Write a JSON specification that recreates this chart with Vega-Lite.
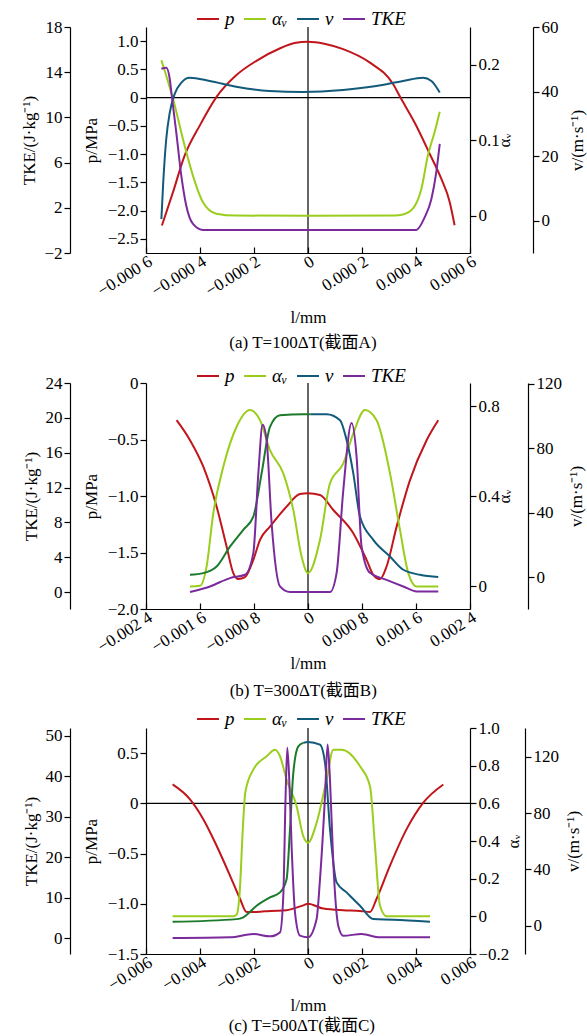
{
"$schema":"https://vega.github.io/schema/vega-lite/v6.json",
"padding":{"left":20,"top":7,"right":2,"bottom":2},
"spacing":13,
"datasets":{
"a":[
{"s":"p","l":-0.000541,"y":-2.263},{"s":"p","l":-0.0005,"y":-1.673},{"s":"p","l":-0.000457,"y":-1.026},{"s":"p","l":-0.000401,"y":-0.496},{"s":"p","l":-0.00034,"y":0.005},{"s":"p","l":-0.000265,"y":0.4},{"s":"p","l":-0.000191,"y":0.652},{"s":"p","l":-0.000105,"y":0.87},{"s":"p","l":-0.00005,"y":0.965},{"s":"p","l":0,"y":0.99},{"s":"p","l":0.00006,"y":0.955},{"s":"p","l":0.00013,"y":0.859},{"s":"p","l":0.000228,"y":0.624},{"s":"p","l":0.000315,"y":0.24},{"s":"p","l":0.000342,"y":0.005},{"s":"p","l":0.000401,"y":-0.497},{"s":"p","l":0.000451,"y":-0.997},{"s":"p","l":0.000494,"y":-1.44},{"s":"p","l":0.000525,"y":-1.85},{"s":"p","l":0.000543,"y":-2.26},
{"s":"a","l":-0.000543,"y":0.206},{"s":"a","l":-0.0005,"y":0.155},{"s":"a","l":-0.000457,"y":0.093},{"s":"a","l":-0.000426,"y":0.053},{"s":"a","l":-0.000389,"y":0.018},{"s":"a","l":-0.00034,"y":0.003},{"s":"a","l":-0.000267,"y":0.0005},{"s":"a","l":0,"y":0.0003},{"s":"a","l":0.00032,"y":0.0005},{"s":"a","l":0.000352,"y":0.002},{"s":"a","l":0.000389,"y":0.01},{"s":"a","l":0.00042,"y":0.036},{"s":"a","l":0.000444,"y":0.08},{"s":"a","l":0.000469,"y":0.111},{"s":"a","l":0.000488,"y":0.138},
{"s":"v","l":-0.000543,"y":0.5},{"s":"v","l":-0.000537,"y":10.6},{"s":"v","l":-0.000525,"y":25.3},{"s":"v","l":-0.000512,"y":33.5},{"s":"v","l":-0.000494,"y":39.2},{"s":"v","l":-0.000469,"y":42.8},{"s":"v","l":-0.000438,"y":44.3},{"s":"v","l":-0.000364,"y":43.3},{"s":"v","l":-0.000266,"y":41.5},{"s":"v","l":-0.000142,"y":40.2},{"s":"v","l":-0.0000185,"y":39.9},{"s":"v","l":0.00013,"y":40.5},{"s":"v","l":0.000253,"y":41.7},{"s":"v","l":0.000352,"y":43.3},{"s":"v","l":0.000426,"y":44.3},{"s":"v","l":0.000457,"y":43.3},{"s":"v","l":0.000488,"y":39.7},
{"s":"k","l":-0.000543,"y":14.3},{"s":"k","l":-0.000525,"y":14.4},{"s":"k","l":-0.000512,"y":13.4},{"s":"k","l":-0.000506,"y":12.2},{"s":"k","l":-0.000488,"y":8.7},{"s":"k","l":-0.000469,"y":4.8},{"s":"k","l":-0.000451,"y":2.2},{"s":"k","l":-0.000426,"y":0.57},{"s":"k","l":-0.000389,"y":0.04},{"s":"k","l":0,"y":0.04},{"s":"k","l":0.000401,"y":0.04},{"s":"k","l":0.000432,"y":1.15},{"s":"k","l":0.000457,"y":2.78},{"s":"k","l":0.000475,"y":5.14},{"s":"k","l":0.000488,"y":7.65}
],
"b":[
{"s":"p","l":-0.001947,"y":-0.329},{"s":"p","l":-0.001748,"y":-0.506},{"s":"p","l":-0.001551,"y":-0.741},{"s":"p","l":-0.001354,"y":-1.094},{"s":"p","l":-0.001206,"y":-1.447},{"s":"p","l":-0.001107,"y":-1.682},{"s":"p","l":-0.001033,"y":-1.735},{"s":"p","l":-0.000933,"y":-1.718},{"s":"p","l":-0.00081,"y":-1.565},{"s":"p","l":-0.000711,"y":-1.388},{"s":"p","l":-0.000563,"y":-1.271},{"s":"p","l":-0.000317,"y":-1.094},{"s":"p","l":-0.000119,"y":-0.982},{"s":"p","l":0,"y":-0.976},{"s":"p","l":0.000178,"y":-0.991},{"s":"p","l":0.000375,"y":-1.124},{"s":"p","l":0.000671,"y":-1.329},{"s":"p","l":0.000868,"y":-1.565},{"s":"p","l":0.000967,"y":-1.697},{"s":"p","l":0.001067,"y":-1.735},{"s":"p","l":0.001164,"y":-1.624},{"s":"p","l":0.001313,"y":-1.271},{"s":"p","l":0.001511,"y":-0.859},{"s":"p","l":0.001757,"y":-0.506},{"s":"p","l":0.00193,"y":-0.329},
{"s":"a","l":-0.001748,"y":0},{"s":"a","l":-0.0016,"y":0.003},{"s":"a","l":-0.001502,"y":0.089},{"s":"a","l":-0.001403,"y":0.325},{"s":"a","l":-0.001255,"y":0.531},{"s":"a","l":-0.001058,"y":0.709},{"s":"a","l":-0.000859,"y":0.783},{"s":"a","l":-0.000711,"y":0.738},{"s":"a","l":-0.000563,"y":0.605},{"s":"a","l":-0.000366,"y":0.502},{"s":"a","l":-0.000218,"y":0.34},{"s":"a","l":-0.000095,"y":0.133},{"s":"a","l":0,"y":0.059},{"s":"a","l":0.000178,"y":0.207},{"s":"a","l":0.000326,"y":0.458},{"s":"a","l":0.000523,"y":0.546},{"s":"a","l":0.000671,"y":0.679},{"s":"a","l":0.000844,"y":0.783},{"s":"a","l":0.001016,"y":0.738},{"s":"a","l":0.001215,"y":0.502},{"s":"a","l":0.001363,"y":0.251},{"s":"a","l":0.001486,"y":0.059},{"s":"a","l":0.001609,"y":0},{"s":"a","l":0.00193,"y":0},
{"s":"g","l":-0.001748,"y":1.67},{"s":"g","l":-0.001551,"y":2.7},{"s":"g","l":-0.001354,"y":6.8},{"s":"g","l":-0.001156,"y":19.1},{"s":"g","l":-0.000959,"y":29.5},{"s":"g","l":-0.00081,"y":37.7},{"s":"g","l":-0.000687,"y":64.5},{"s":"g","l":-0.000563,"y":93.3},{"s":"g","l":-0.000415,"y":100.5},{"s":"g","l":-0.00007,"y":101.1},{"s":"g","l":0.00004,"y":101.1},
{"s":"v","l":0.00004,"y":101.1},{"s":"v","l":0.000276,"y":101.1},{"s":"v","l":0.000474,"y":97.4},{"s":"v","l":0.000572,"y":85.1},{"s":"v","l":0.000671,"y":64.5},{"s":"v","l":0.00077,"y":37.7},{"s":"v","l":0.000967,"y":23.3},{"s":"v","l":0.001215,"y":13},{"s":"v","l":0.001412,"y":4.8},{"s":"v","l":0.001659,"y":1.67},{"s":"v","l":0.00193,"y":0.25},
{"s":"k","l":-0.001748,"y":0},{"s":"k","l":-0.001452,"y":0.64},{"s":"k","l":-0.001156,"y":1.6},{"s":"k","l":-0.000933,"y":1.98},{"s":"k","l":-0.00081,"y":4.47},{"s":"k","l":-0.000736,"y":13.6},{"s":"k","l":-0.000672,"y":19.2},{"s":"k","l":-0.000613,"y":17.4},{"s":"k","l":-0.000539,"y":7.9},{"s":"k","l":-0.000415,"y":0.64},{"s":"k","l":-0.000267,"y":0},{"s":"k","l":0.000326,"y":0},{"s":"k","l":0.000424,"y":2.2},{"s":"k","l":0.000523,"y":11.7},{"s":"k","l":0.000646,"y":19.4},{"s":"k","l":0.00072,"y":15.5},{"s":"k","l":0.000794,"y":5.2},{"s":"k","l":0.000918,"y":2.2},{"s":"k","l":0.001164,"y":1.4},{"s":"k","l":0.001412,"y":0.64},{"s":"k","l":0.001609,"y":0.07},{"s":"k","l":0.00193,"y":0.07}
],
"c":[
{"s":"p","l":-0.005015,"y":0.188},{"s":"p","l":-0.00437,"y":0.04},{"s":"p","l":-0.003878,"y":-0.158},{"s":"p","l":-0.003385,"y":-0.422},{"s":"p","l":-0.002889,"y":-0.719},{"s":"p","l":-0.002519,"y":-0.95},{"s":"p","l":-0.002274,"y":-1.081},{"s":"p","l":-0.001904,"y":-1.081},{"s":"p","l":-0.001407,"y":-1.071},{"s":"p","l":-0.000793,"y":-1.065},{"s":"p","l":-0.000544,"y":-1.048},{"s":"p","l":-0.000174,"y":-1.016},{"s":"p","l":0,"y":-0.999},{"s":"p","l":0.000567,"y":-1.048},{"s":"p","l":0.001307,"y":-1.065},{"s":"p","l":0.001926,"y":-1.071},{"s":"p","l":0.002296,"y":-1.081},{"s":"p","l":0.002541,"y":-0.95},{"s":"p","l":0.003037,"y":-0.62},{"s":"p","l":0.003652,"y":-0.257},{"s":"p","l":0.00427,"y":0.007},{"s":"p","l":0.005011,"y":0.188},
{"s":"a","l":-0.005015,"y":0},{"s":"a","l":-0.002767,"y":0},{"s":"a","l":-0.00264,"y":0.01},{"s":"a","l":-0.00252,"y":0.15},{"s":"a","l":-0.00242,"y":0.45},{"s":"a","l":-0.00232,"y":0.66},{"s":"a","l":-0.002026,"y":0.779},{"s":"a","l":-0.001533,"y":0.85},{"s":"a","l":-0.001222,"y":0.885},{"s":"a","l":-0.001037,"y":0.85},{"s":"a","l":-0.000793,"y":0.726},{"s":"a","l":-0.000422,"y":0.585},{"s":"a","l":-0.000174,"y":0.426},{"s":"a","l":0,"y":0.391},{"s":"a","l":0.000319,"y":0.497},{"s":"a","l":0.000689,"y":0.726},{"s":"a","l":0.000937,"y":0.885},{"s":"a","l":0.001244,"y":0.885},{"s":"a","l":0.001926,"y":0.797},{"s":"a","l":0.002296,"y":0.691},{"s":"a","l":0.002481,"y":0.374},{"s":"a","l":0.002667,"y":0.056},{"s":"a","l":0.002911,"y":0},{"s":"a","l":0.004518,"y":0},
{"s":"g","l":-0.005015,"y":2.8},{"s":"g","l":-0.002644,"y":4.7},{"s":"g","l":-0.002396,"y":6},{"s":"g","l":-0.001904,"y":14.2},{"s":"g","l":-0.001407,"y":20.1},{"s":"g","l":-0.001037,"y":23.7},{"s":"g","l":-0.000793,"y":33.1},{"s":"g","l":-0.000667,"y":68.5},{"s":"g","l":-0.000544,"y":108.7},{"s":"g","l":-0.000359,"y":127.6},{"s":"g","l":-0.000174,"y":130},
{"s":"v","l":-0.000174,"y":130},{"s":"v","l":0,"y":130.7},{"s":"v","l":0.000444,"y":128.8},{"s":"v","l":0.00063,"y":115.8},{"s":"v","l":0.000815,"y":68.5},{"s":"v","l":0.001059,"y":30.8},{"s":"v","l":0.00143,"y":23.7},{"s":"v","l":0.001926,"y":14.2},{"s":"v","l":0.002418,"y":4.7},{"s":"v","l":0.003159,"y":4.3},{"s":"v","l":0.004518,"y":2.8},
{"s":"k","l":-0.005015,"y":0},{"s":"k","l":-0.002889,"y":0.17},{"s":"k","l":-0.002026,"y":1},{"s":"k","l":-0.001407,"y":0.42},{"s":"k","l":-0.001037,"y":1.4},{"s":"k","l":-0.000915,"y":10.4},{"s":"k","l":-0.00083,"y":35},{"s":"k","l":-0.000767,"y":47},{"s":"k","l":-0.000693,"y":39},{"s":"k","l":-0.000607,"y":22.7},{"s":"k","l":-0.000481,"y":6.3},{"s":"k","l":-0.000296,"y":0.6},{"s":"k","l":0,"y":0.17},{"s":"k","l":0.000319,"y":4.7},{"s":"k","l":0.000444,"y":14.5},{"s":"k","l":0.00063,"y":35},{"s":"k","l":0.000726,"y":47.8},{"s":"k","l":0.000815,"y":39},{"s":"k","l":0.000937,"y":18.6},{"s":"k","l":0.001122,"y":3},{"s":"k","l":0.001307,"y":0.57},{"s":"k","l":0.001985,"y":1},{"s":"k","l":0.002667,"y":0.17},{"s":"k","l":0.004518,"y":0.17}
]
},
"vconcat":[
{
"width":324,"height":226,
"data":{"name":"a"},
"title":{"text":"(a) T=100ΔT(截面A)","orient":"bottom","offset":9,"fontSize":17,"fontWeight":"normal","frame":"bounds","anchor":"middle"},
"layer":[
{"data":{"values":[{}]},"mark":{"type":"rule","color":"black","strokeWidth":1.2},"encoding":{"x":{"datum":0,"type":"quantitative","scale":{"domain":[-0.0006,0.0006],"nice":false,"zero":false},"axis":{"values":[-0.0006,-0.0004,-0.0002,0,0.0002,0.0004,0.0006],"labelExpr":"datum.value==0?'0':slice(format(datum.value,'.4f'),0,-1)+' '+slice(format(datum.value,'.4f'),-1)","title":"l/mm","titlePadding":11}}}},
{"data":{"values":[{}]},"mark":{"type":"rule","color":"black","strokeWidth":1.2},"encoding":{"y":{"datum":0,"type":"quantitative","scale":{"domain":[-2.75,1.25],"nice":false,"zero":false},"axis":null}}},
{"transform":[{"filter":"datum.s=='p'"}],"mark":"line","encoding":{
"x":{"field":"l","type":"quantitative","scale":{"domain":[-0.0006,0.0006],"nice":false,"zero":false},"axis":{"values":[-0.0006,-0.0004,-0.0002,0,0.0002,0.0004,0.0006],"labelExpr":"datum.value==0?'0':slice(format(datum.value,'.4f'),0,-1)+' '+slice(format(datum.value,'.4f'),-1)","title":"l/mm","titlePadding":11}},
"y":{"field":"y","type":"quantitative","scale":{"domain":[-2.75,1.25],"nice":false,"zero":false},"axis":{"orient":"left","values":[-2.5,-2,-1.5,-1,-0.5,0,0.5,1],"labelExpr":"datum.value==0?'0':format(datum.value,'.1f')","title":"p/MPa","titlePadding":7}},
"color":{"field":"s","type":"nominal","scale":{"domain":["p","a","v","k","g"],"range":["#c0161b","#9acd1c","#125a7a","#7b2a9c","#1b7a2b"]},"legend":{"orient":"none","legendX":50,"legendY":-20,"direction":"horizontal","title":null,"values":["p","a","v","k"],"labelExpr":"datum.label=='a'?'αᵥ':datum.label=='k'?'TKE':datum.label"}}}},
{"transform":[{"filter":"datum.s=='a'"}],"mark":"line","encoding":{
"x":{"field":"l","type":"quantitative","scale":{"domain":[-0.0006,0.0006],"nice":false,"zero":false}},
"y":{"field":"y","type":"quantitative","scale":{"domain":[-0.049,0.25],"nice":false,"zero":false},"axis":{"orient":"right","values":[0,0.1,0.2],"labelExpr":"datum.value==0?'0':format(datum.value,'.1f')","title":"αᵥ","titleAngle":270,"titleBaseline":"top","titlePadding":-3}},
"color":{"field":"s","type":"nominal","scale":{"domain":["p","a","v","k","g"],"range":["#c0161b","#9acd1c","#125a7a","#7b2a9c","#1b7a2b"]}}}},
{"transform":[{"filter":"datum.s=='v' || datum.s=='g'"}],"mark":"line","encoding":{
"x":{"field":"l","type":"quantitative","scale":{"domain":[-0.0006,0.0006],"nice":false,"zero":false}},
"y":{"field":"y","type":"quantitative","scale":{"domain":[-10,60],"nice":false,"zero":false},"axis":{"orient":"right","offset":63,"values":[0,20,40,60],"title":"v/(m·s⁻¹)","titleAngle":270,"titleBaseline":"top","titlePadding":11}},
"color":{"field":"s","type":"nominal","scale":{"domain":["p","a","v","k","g"],"range":["#c0161b","#9acd1c","#125a7a","#7b2a9c","#1b7a2b"]}}}},
{"transform":[{"filter":"datum.s=='k'"}],"mark":"line","encoding":{
"x":{"field":"l","type":"quantitative","scale":{"domain":[-0.0006,0.0006],"nice":false,"zero":false}},
"y":{"field":"y","type":"quantitative","scale":{"domain":[-2,18],"nice":false,"zero":false},"axis":{"orient":"left","offset":76,"values":[-2,2,6,10,14,18],"title":"TKE/(J·kg⁻¹)","titlePadding":5}},
"color":{"field":"s","type":"nominal","scale":{"domain":["p","a","v","k","g"],"range":["#c0161b","#9acd1c","#125a7a","#7b2a9c","#1b7a2b"]}}}}
],
"resolve":{"scale":{"y":"independent"},"axis":{"y":"independent"}}
},
{
"spacing":8,
"resolve":{"scale":{"color":"independent","x":"independent","y":"independent"},"legend":{"color":"independent"},"axis":{"x":"independent","y":"independent"}},
"vconcat":[
{
"width":324,"height":226,
"data":{"name":"b"},
"title":{"text":"(b) T=300ΔT(截面B)","orient":"bottom","offset":11,"fontSize":17,"fontWeight":"normal","frame":"bounds","anchor":"middle"},
"layer":[
{"data":{"values":[{}]},"mark":{"type":"rule","color":"black","strokeWidth":1.2},"encoding":{"x":{"datum":0,"type":"quantitative","scale":{"domain":[-0.0024,0.0024],"nice":false,"zero":false},"axis":{"values":[-0.0024,-0.0016,-0.0008,0,0.0008,0.0016,0.0024],"labelExpr":"datum.value==0?'0':slice(format(datum.value,'.4f'),0,-1)+' '+slice(format(datum.value,'.4f'),-1)","title":"l/mm","titlePadding":1}}}},
{"transform":[{"filter":"datum.s=='p'"}],"mark":"line","encoding":{
"x":{"field":"l","type":"quantitative","scale":{"domain":[-0.0024,0.0024],"nice":false,"zero":false},"axis":{"values":[-0.0024,-0.0016,-0.0008,0,0.0008,0.0016,0.0024],"labelExpr":"datum.value==0?'0':slice(format(datum.value,'.4f'),0,-1)+' '+slice(format(datum.value,'.4f'),-1)","title":"l/mm","titlePadding":1}},
"y":{"field":"y","type":"quantitative","scale":{"domain":[-2,0],"nice":false,"zero":false},"axis":{"orient":"left","values":[-2,-1.5,-1,-0.5,0],"labelExpr":"datum.value==0?'0':format(datum.value,'.1f')","title":"p/MPa","titlePadding":7}},
"color":{"field":"s","type":"nominal","scale":{"domain":["p","a","v","k","g"],"range":["#c0161b","#9acd1c","#125a7a","#7b2a9c","#1b7a2b"]},"legend":{"orient":"none","legendX":50,"legendY":-19,"direction":"horizontal","title":null,"values":["p","a","v","k"],"labelExpr":"datum.label=='a'?'αᵥ':datum.label=='k'?'TKE':datum.label"}}}},
{"transform":[{"filter":"datum.s=='a'"}],"mark":"line","encoding":{
"x":{"field":"l","type":"quantitative","scale":{"domain":[-0.0024,0.0024],"nice":false,"zero":false}},
"y":{"field":"y","type":"quantitative","scale":{"domain":[-0.1,0.903],"nice":false,"zero":false},"axis":{"orient":"right","values":[0,0.4,0.8],"labelExpr":"datum.value==0?'0':format(datum.value,'.1f')","title":"αᵥ","titleAngle":270,"titleBaseline":"top","titlePadding":-3}},
"color":{"field":"s","type":"nominal","scale":{"domain":["p","a","v","k","g"],"range":["#c0161b","#9acd1c","#125a7a","#7b2a9c","#1b7a2b"]}}}},
{"transform":[{"filter":"datum.s=='v' || datum.s=='g'"}],"mark":"line","encoding":{
"x":{"field":"l","type":"quantitative","scale":{"domain":[-0.0024,0.0024],"nice":false,"zero":false}},
"y":{"field":"y","type":"quantitative","scale":{"domain":[-19.5,120.4],"nice":false,"zero":false},"axis":{"orient":"right","offset":58,"values":[0,40,80,120],"title":"v/(m·s⁻¹)","titleAngle":270,"titleBaseline":"top","titlePadding":7}},
"color":{"field":"s","type":"nominal","scale":{"domain":["p","a","v","k","g"],"range":["#c0161b","#9acd1c","#125a7a","#7b2a9c","#1b7a2b"]}}}},
{"transform":[{"filter":"datum.s=='k'"}],"mark":"line","encoding":{
"x":{"field":"l","type":"quantitative","scale":{"domain":[-0.0024,0.0024],"nice":false,"zero":false}},
"y":{"field":"y","type":"quantitative","scale":{"domain":[-1.95,24],"nice":false,"zero":false},"axis":{"orient":"left","offset":76,"values":[0,4,8,12,16,20,24],"title":"TKE/(J·kg⁻¹)","titlePadding":5}},
"color":{"field":"s","type":"nominal","scale":{"domain":["p","a","v","k","g"],"range":["#c0161b","#9acd1c","#125a7a","#7b2a9c","#1b7a2b"]}}}}
],
"resolve":{"scale":{"y":"independent"},"axis":{"y":"independent"}}
},
{
"width":324,"height":226,
"data":{"name":"c"},
"title":{"text":"(c) T=500ΔT(截面C)","orient":"bottom","offset":4,"fontSize":17,"fontWeight":"normal","frame":"bounds","anchor":"middle"},
"layer":[
{"data":{"values":[{}]},"mark":{"type":"rule","color":"black","strokeWidth":1.2},"encoding":{"x":{"datum":0,"type":"quantitative","scale":{"domain":[-0.006,0.006],"nice":false,"zero":false},"axis":{"values":[-0.006,-0.004,-0.002,0,0.002,0.004,0.006],"labelExpr":"datum.value==0?'0':format(datum.value,'.3f')","title":"l/mm","titlePadding":5}}}},
{"data":{"values":[{}]},"mark":{"type":"rule","color":"black","strokeWidth":1.2},"encoding":{"y":{"datum":0,"type":"quantitative","scale":{"domain":[-1.5,0.75],"nice":false,"zero":false},"axis":null}}},
{"transform":[{"filter":"datum.s=='p'"}],"mark":"line","encoding":{
"x":{"field":"l","type":"quantitative","scale":{"domain":[-0.006,0.006],"nice":false,"zero":false},"axis":{"values":[-0.006,-0.004,-0.002,0,0.002,0.004,0.006],"labelExpr":"datum.value==0?'0':format(datum.value,'.3f')","title":"l/mm","titlePadding":5}},
"y":{"field":"y","type":"quantitative","scale":{"domain":[-1.5,0.75],"nice":false,"zero":false},"axis":{"orient":"left","values":[-1.5,-1,-0.5,0,0.5],"labelExpr":"datum.value==0?'0':format(datum.value,'.1f')","title":"p/MPa","titlePadding":7}},
"color":{"field":"s","type":"nominal","scale":{"domain":["p","a","v","k","g"],"range":["#c0161b","#9acd1c","#125a7a","#7b2a9c","#1b7a2b"]},"legend":{"orient":"none","legendX":50,"legendY":-21,"direction":"horizontal","title":null,"values":["p","a","v","k"],"labelExpr":"datum.label=='a'?'αᵥ':datum.label=='k'?'TKE':datum.label"}}}},
{"transform":[{"filter":"datum.s=='a'"}],"mark":"line","encoding":{
"x":{"field":"l","type":"quantitative","scale":{"domain":[-0.006,0.006],"nice":false,"zero":false}},
"y":{"field":"y","type":"quantitative","scale":{"domain":[-0.2,1.0],"nice":false,"zero":false},"axis":{"orient":"right","values":[-0.2,0,0.2,0.4,0.6,0.8,1.0],"labelExpr":"datum.value==0?'0':format(datum.value,'.1f')","title":"αᵥ","titleAngle":270,"titleBaseline":"top","titlePadding":-3}},
"color":{"field":"s","type":"nominal","scale":{"domain":["p","a","v","k","g"],"range":["#c0161b","#9acd1c","#125a7a","#7b2a9c","#1b7a2b"]}}}},
{"transform":[{"filter":"datum.s=='v' || datum.s=='g'"}],"mark":"line","encoding":{
"x":{"field":"l","type":"quantitative","scale":{"domain":[-0.006,0.006],"nice":false,"zero":false}},
"y":{"field":"y","type":"quantitative","scale":{"domain":[-20.1,140.6],"nice":false,"zero":false},"axis":{"orient":"right","offset":55,"values":[0,40,80,120],"title":"v/(m·s⁻¹)","titleAngle":270,"titleBaseline":"top","titlePadding":7}},
"color":{"field":"s","type":"nominal","scale":{"domain":["p","a","v","k","g"],"range":["#c0161b","#9acd1c","#125a7a","#7b2a9c","#1b7a2b"]}}}},
{"transform":[{"filter":"datum.s=='k'"}],"mark":"line","encoding":{
"x":{"field":"l","type":"quantitative","scale":{"domain":[-0.006,0.006],"nice":false,"zero":false}},
"y":{"field":"y","type":"quantitative","scale":{"domain":[-3.94,51.9],"nice":false,"zero":false},"axis":{"orient":"left","offset":76,"values":[0,10,20,30,40,50],"title":"TKE/(J·kg⁻¹)","titlePadding":5}},
"color":{"field":"s","type":"nominal","scale":{"domain":["p","a","v","k","g"],"range":["#c0161b","#9acd1c","#125a7a","#7b2a9c","#1b7a2b"]}}}}
],
"resolve":{"scale":{"y":"independent"},"axis":{"y":"independent"}}
}
]
}
],
"resolve":{"scale":{"color":"independent","x":"independent","y":"independent"},"legend":{"color":"independent"},"axis":{"x":"independent","y":"independent"}},
"config":{
"font":"Liberation Serif, Noto Sans CJK SC",
"view":{"stroke":null},
"line":{"strokeWidth":2,"interpolate":"monotone"},
"axis":{"labelFontSize":17,"titleFontSize":17,"titleFontWeight":"normal","labelColor":"#000","titleColor":"#000","domainColor":"#000","tickColor":"#000","domainWidth":1.2,"tickWidth":1.2,"tickSize":6,"grid":false,"labelPadding":2,"labelOverlap":false,"labelFlush":false},
"axisX":{"tickSize":-6,"labelPadding":6,"labelAngle":-32,"labelAlign":"right","labelBaseline":"top"},
"legend":{"symbolType":"stroke","symbolSize":484,"symbolStrokeWidth":2.5,"labelFontSize":19,"labelFontStyle":"italic","labelColor":"#000","columnPadding":5,"labelOffset":5},
"title":{"color":"#000"}
}
}
